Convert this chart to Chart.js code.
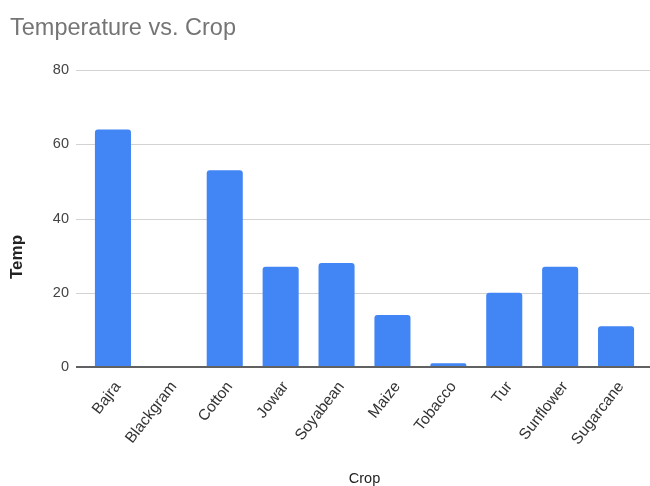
<!DOCTYPE html>
<html>
<head>
<meta charset="utf-8">
<script src="https://cdn.jsdelivr.net/npm/chart.js@4/dist/chart.umd.min.js"></script>
<style>
  html, body { margin: 0; padding: 0; background: #ffffff; }
  #wrap { width: 650px; height: 486px; }
</style>
</head>
<body>
<div id="wrap"><canvas id="chart" width="650" height="486"></canvas></div>
<script>
// Crops and their temperature values
const crops = ['Bajra', 'Blackgram', 'Cotton', 'Jowar', 'Soyabean', 'Maize', 'Tobacco', 'Tur', 'Sunflower', 'Sugarcane'];
const temps = [64, 0, 53, 27, 28, 14, 1, 20, 27, 11];

// Y axis range and tick step
const yMin = 0;
const yMax = 80;
const yStep = 20;

const FONT = '"Liberation Sans", Arial, sans-serif';

// Horizontal gridlines extend slightly left of the plot, and across to the right edge
const gridLines = {
  id: 'gridLines',
  beforeDatasetsDraw(chart) {
    const y = chart.scales.y;
    const ctx = chart.ctx;
    const x0 = chart.chartArea.left - 9;
    ctx.save();
    ctx.strokeStyle = '#d3d3d3';
    ctx.lineWidth = 1;
    y.ticks.forEach(t => {
      if (t.value === yMin) return;
      const py = Math.round(y.getPixelForValue(t.value)) + 0.5;
      ctx.beginPath();
      ctx.moveTo(x0, py);
      ctx.lineTo(chart.width, py);
      ctx.stroke();
    });
    ctx.restore();
  },
  afterDatasetsDraw(chart) {
    const y = chart.scales.y;
    const ctx = chart.ctx;
    const x0 = chart.chartArea.left - 9;
    const py = y.getPixelForValue(yMin);
    ctx.save();
    ctx.strokeStyle = '#616161';
    ctx.lineWidth = 2;
    ctx.beginPath();
    ctx.moveTo(x0, py);
    ctx.lineTo(chart.width, py);
    ctx.stroke();
    ctx.restore();
  }
};

// Vertical axis title
const yTitle = {
  id: 'yTitle',
  afterDraw(chart) {
    const ctx = chart.ctx;
    ctx.save();
    ctx.translate(17, 257);
    ctx.rotate(-Math.PI / 2);
    ctx.font = 'bold 17px ' + FONT;
    ctx.fillStyle = '#222222';
    ctx.textAlign = 'center';
    ctx.textBaseline = 'middle';
    ctx.fillText('Temp', 0, 0);
    ctx.restore();
  }
};

new Chart(document.getElementById('chart'), {
  type: 'bar',
  data: {
    labels: crops,
    datasets: [{
      label: 'Temp',
      data: temps,
      backgroundColor: '#4285f4',
      borderWidth: 0,
      borderRadius: { topLeft: 3, topRight: 3, bottomLeft: 0, bottomRight: 0 },
      borderSkipped: 'start',
      categoryPercentage: 1.0,
      barPercentage: 0.645
    }]
  },
  options: {
    responsive: false,
    animation: false,
    layout: { padding: { left: 10, right: 6, top: 0, bottom: 0 } },
    plugins: {
      legend: { display: false },
      tooltip: { enabled: false },
      title: {
        display: true,
        text: 'Temperature vs. Crop',
        align: 'start',
        color: '#757575',
        font: { family: FONT, size: 23.5, weight: 'normal' },
        padding: { top: 14, bottom: 28 }
      }
    },
    scales: {
      x: {
        grid: { display: false, drawTicks: false },
        border: { display: false },
        ticks: {
          color: '#333333',
          font: { family: FONT, size: 15.5 },
          minRotation: 52,
          maxRotation: 52,
          autoSkip: false,
          padding: 11,
          labelOffset: 5
        },
        title: {
          display: true,
          text: 'Crop',
          color: '#222222',
          font: { family: FONT, size: 14.5 },
          padding: { top: 0, bottom: -2 }
        },
        afterFit(scale) { scale.height = 119; }
      },
      y: {
        min: yMin,
        max: yMax,
        grid: { display: false, drawTicks: false },
        border: { display: false },
        ticks: {
          stepSize: yStep,
          color: '#444444',
          font: { family: FONT, size: 14.5 },
          padding: 16
        },
        afterFit(scale) { scale.width = 75; }
      }
    }
  },
  plugins: [gridLines, yTitle]
});
</script>
</body>
</html>
